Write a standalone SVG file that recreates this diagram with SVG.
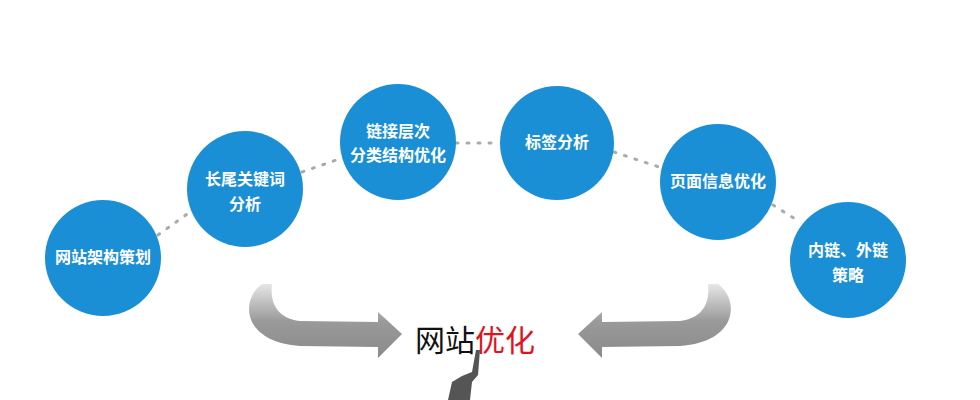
<svg xmlns="http://www.w3.org/2000/svg" width="980" height="400" viewBox="0 0 980 400">
<defs>
<style>
.c{fill:#1a8fd6}
.t{fill:#fff;font-family:"Noto Sans CJK SC",sans-serif;font-weight:bold;font-size:16px;text-anchor:middle}
.d{fill:none;stroke:#aaa;stroke-width:3;stroke-dasharray:2 9;stroke-linecap:round}
.a{fill:#8f8f8f}
</style>
<linearGradient id="g" x1="0" y1="0" x2="0" y2="1"><stop offset="0" stop-color="#e6e6e6"/><stop offset="0.5" stop-color="#9a9a9a"/><stop offset="1" stop-color="#8a8a8a"/></linearGradient>
</defs>
<g id="connectors">
<path class="d" d="M158,235 L190,212"/>
<path class="d" d="M302,172 L342,158"/>
<path class="d" d="M456,143 L500,143"/>
<path class="d" d="M614,152 L662,168"/>
<path class="d" d="M773,205 L800,222"/>
</g>
<g id="n1"><circle class="c" cx="103" cy="258" r="58"/><text class="t" x="103" y="263">网站架构策划</text></g>
<g id="n2"><circle class="c" cx="245" cy="189" r="58"/><text class="t" x="245" y="185">长尾关键词</text><text class="t" x="245" y="210">分析</text></g>
<g id="n3"><circle class="c" cx="398" cy="142" r="58"/><text class="t" x="398" y="137">链接层次</text><text class="t" x="398" y="161">分类结构优化</text></g>
<g id="n4"><circle class="c" cx="557" cy="143" r="57"/><text class="t" x="557" y="148">标签分析</text></g>
<g id="n5"><circle class="c" cx="718" cy="182" r="58"/><text class="t" x="718" y="187">页面信息优化</text></g>
<g id="n6"><circle class="c" cx="848" cy="260" r="58"/><text class="t" x="848" y="256">内链、外链</text><text class="t" x="848" y="281">策略</text></g>
<g id="arrows">
<path fill="url(#g)" d="M262,284 C240,300 242,342 300,346 L378,347 L378,358 L402,334 L378,312 L378,322 L300,321 C275,318 270,300 272,284 Z"/>
<path fill="url(#g)" d="M718,284 C740,300 738,342 680,346 L602,347 L602,358 L578,334 L602,312 L602,322 L680,321 C705,318 710,300 708,284 Z"/>
</g>
<g id="center">
<text x="415" y="351" font-family="Noto Sans CJK SC,sans-serif" font-size="30" fill="#111">网站<tspan fill="#e0141e">优化</tspan></text>
</g>
<g id="figure">
<path fill="#555" d="M476,350 L480,350 L478,375 L472,382 L470,400 L448,400 L452,382 L462,376 L472,372 Z"/>
</g>
</svg>
